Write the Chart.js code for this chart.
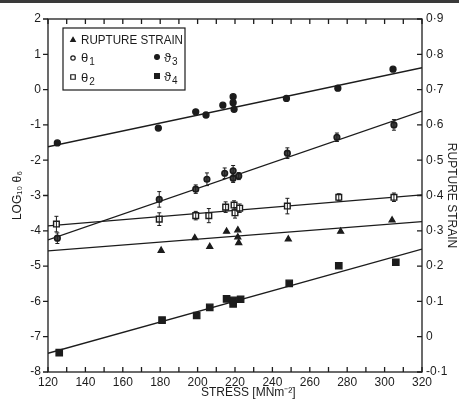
<!DOCTYPE html>
<html>
<head>
<meta charset="utf-8">
<script src="https://cdn.jsdelivr.net/npm/chart.js@4"></script>
<style>
    html, body { margin: 0; padding: 0; background: #fff; }
    #wrap { width: 459px; height: 400px; position: relative; }
</style>
</head>
<body>
<div id="wrap"><canvas id="chart"></canvas></div>
<script>
// --- Data ---
const theta3Stress = [125, 179, 199, 204.5, 213.5, 219, 219, 219.5, 247.5, 275, 304.5];
const theta3Log    = [-1.51, -1.09, -0.63, -0.72, -0.44, -0.20, -0.37, -0.56, -0.25, 0.04, 0.58];

const theta1Stress = [125, 179.5, 199, 205, 214.5, 219, 219, 222, 248, 274.5, 305];
const theta1Log    = [-4.21, -3.11, -2.82, -2.54, -2.37, -2.30, -2.51, -2.45, -1.80, -1.35, -1.00];
const theta1Err    = [0.15, 0.22, 0.12, 0.18, 0.15, 0.15, 0.12, 0.10, 0.15, 0.12, 0.15];

const theta2Stress = [124.5, 179.5, 199, 206, 215, 219.5, 220, 222.5, 248, 275.5, 305];
const theta2Log    = [-3.81, -3.67, -3.57, -3.57, -3.33, -3.27, -3.49, -3.36, -3.30, -3.05, -3.05];
const theta2Err    = [0.22, 0.18, 0.12, 0.20, 0.15, 0.12, 0.15, 0.12, 0.22, 0.10, 0.12];

const ruptureStress = [180.5, 198.5, 206.5, 215.5, 221.5, 221.5, 222, 248.5, 276.5, 304];
const ruptureStrain = [0.244, 0.280, 0.255, 0.298, 0.302, 0.282, 0.266, 0.276, 0.298, 0.330];

const theta4Stress = [126, 181, 199.5, 206.5, 215.5, 219, 219, 223, 249, 275.5, 306];
const theta4Log    = [-7.45, -6.53, -6.40, -6.17, -5.93, -5.97, -6.07, -5.94, -5.49, -4.99, -4.89];

// fitted lines, ends at 120 and 320
const fitStress  = [120, 320];
const theta3Fit  = [-1.62, 0.62];
const theta1Fit  = [-4.26, -0.61];
const theta2Fit  = [-3.86, -2.98];
const ruptureFit = [0.243, 0.326];
const theta4Fit  = [-7.47, -4.52];

const xTicks = [120, 140, 160, 180, 200, 220, 240, 260, 280, 300, 320];

// --- Styles ---
const ink = '#1c1c1c';
const fontName = "'Liberation Sans', Arial, sans-serif";

function pts(xs, ys) {
    return xs.map((x, i) => ({ x: x, y: ys[i] }));
}

function fitLine(ys, axis) {
    return {
        data: pts(fitStress, ys), yAxisID: axis, showLine: true,
        borderColor: ink, borderWidth: 1.3, pointRadius: 0, order: 2
    };
}

function markers(xs, ys, axis, style, radius, fill, extra) {
    return Object.assign({
        data: pts(xs, ys), yAxisID: axis, showLine: false,
        pointStyle: style, pointRadius: radius, pointHoverRadius: radius,
        pointBackgroundColor: fill, pointBorderColor: ink, pointBorderWidth: 1.3, order: 1
    }, extra || {});
}

/** Frame, inward ticks, error bars and boxed legend **/
const decorations = {
    id: 'decorations',
    afterDatasetsDraw(chart) {
        const ctx = chart.ctx;
        ctx.save();
        ctx.strokeStyle = ink;
        ctx.lineWidth = 1;
        chart.data.datasets.forEach((ds, di) => {
            if (!ds.errors) return;
            const meta = chart.getDatasetMeta(di);
            const yScale = chart.scales[ds.yAxisID];
            ds.data.forEach((p, i) => {
                const px = meta.data[i].x;
                const top = yScale.getPixelForValue(p.y + ds.errors[i]);
                const bot = yScale.getPixelForValue(p.y - ds.errors[i]);
                ctx.beginPath();
                ctx.moveTo(px, top); ctx.lineTo(px, bot);
                ctx.moveTo(px - 2, top); ctx.lineTo(px + 2, top);
                ctx.moveTo(px - 2, bot); ctx.lineTo(px + 2, bot);
                ctx.stroke();
            });
        });
        ctx.restore();
    },
    afterDraw(chart) {
        const { ctx, chartArea: a, scales } = chart;
        ctx.save();

        // scan edge at the very top
        ctx.fillStyle = '#3a3a3a';
        ctx.fillRect(0, 0, chart.width, 3);

        ctx.strokeStyle = ink;
        ctx.lineWidth = 1.3;
        ctx.strokeRect(a.left, a.top, a.right - a.left, a.bottom - a.top);

        ctx.beginPath();
        for (let v = 120; v <= 320; v += 10) {
            const px = scales.x.getPixelForValue(v);
            ctx.moveTo(px, a.bottom); ctx.lineTo(px, a.bottom - 5);
            ctx.moveTo(px, a.top); ctx.lineTo(px, a.top + 5);
        }
        for (let v = -8; v <= 2; v++) {
            const py = scales.y.getPixelForValue(v);
            ctx.moveTo(a.left, py); ctx.lineTo(a.left - 5, py);
        }
        for (let i = 0; i <= 10; i++) {
            const py = scales.y1.getPixelForValue(-0.1 + i * 0.1);
            ctx.moveTo(a.right, py); ctx.lineTo(a.right - 5, py);
        }
        ctx.stroke();

        // legend box
        const bx = a.left + 15, by = a.top + 9;
        ctx.lineWidth = 1.2;
        ctx.strokeRect(bx, by, 122, 62);

        const H = Chart.helpers;
        function mark(style, r, fill, x, y) {
            ctx.fillStyle = fill;
            ctx.strokeStyle = ink;
            ctx.lineWidth = 1.2;
            H.drawPoint(ctx, { pointStyle: style, radius: r, borderWidth: 1.2, rotation: 0 }, x, y);
        }
        function label(main, sub, x, y, fitWidth) {
            ctx.fillStyle = ink;
            ctx.textBaseline = 'middle';
            ctx.textAlign = 'left';
            ctx.font = '13px ' + fontName;
            const w = ctx.measureText(main).width;
            if (fitWidth && w > fitWidth) {
                // squeeze horizontally like the narrow lettering of the original
                ctx.save();
                ctx.translate(x, y);
                ctx.scale(fitWidth / w, 1);
                ctx.fillText(main, 0, 0);
                ctx.restore();
            } else {
                ctx.fillText(main, x, y);
            }
            if (sub) {
                ctx.font = '10px ' + fontName;
                ctx.fillText(sub, x + w + 1, y + 4);
            }
        }

        mark('triangle', 2.6, ink, bx + 10, by + 12);
        label('RUPTURE STRAIN', null, bx + 18, by + 12, 102);
        mark('circle', 2.2, '#fff', bx + 10, by + 30);
        label('θ', '1', bx + 18, by + 30);
        mark('circle', 2.4, ink, bx + 94, by + 29);
        label('ϑ', '3', bx + 101, by + 30);
        mark('rect', 3.2, '#fff', bx + 10, by + 49);
        label('θ', '2', bx + 18, by + 50);
        mark('rect', 3.4, ink, bx + 94, by + 48);
        label('ϑ', '4', bx + 101, by + 49);

        ctx.restore();
    }
};

// --- Chart ---
const datasets = [
    fitLine(theta3Fit, 'y'),
    fitLine(theta1Fit, 'y'),
    fitLine(theta2Fit, 'y'),
    fitLine(ruptureFit, 'y1'),
    fitLine(theta4Fit, 'y'),
    markers(theta3Stress, theta3Log, 'y', 'circle', 3, ink),
    markers(theta1Stress, theta1Log, 'y', 'circle', 2.8, '#444', { errors: theta1Err, pointBorderWidth: 1.6 }),
    markers(theta2Stress, theta2Log, 'y', 'rect', 4, '#fff', { errors: theta2Err, pointBorderWidth: 1.4 }),
    markers(ruptureStress, ruptureStrain, 'y1', 'triangle', 3.4, ink),
    markers(theta4Stress, theta4Log, 'y', 'rect', 4.5, ink)
];

const tickFont = { family: fontName, size: 12 };
const noGrid = { display: false, drawTicks: false };

new Chart(document.getElementById('chart'), {
    type: 'scatter',
    data: { datasets: datasets },
    plugins: [decorations],
    options: {
        responsive: true,
        maintainAspectRatio: false,
        animation: false,
        layout: { padding: { top: 19, left: 0, right: 0, bottom: 0 } },
        plugins: { legend: { display: false }, tooltip: { enabled: false } },
        scales: {
            x: {
                type: 'linear', min: 120, max: 320,
                afterBuildTicks: (s) => { s.ticks = xTicks.map(v => ({ value: v })); },
                afterFit: (s) => { s.height = 28; },
                grid: noGrid,
                border: { display: false },
                ticks: { color: ink, font: tickFont, padding: 3, maxRotation: 0 },
                title: { display: true, text: '        STRESS [MNm⁻²]', color: ink, font: tickFont, padding: { top: 0, bottom: 0 } }
            },
            y: {
                type: 'linear', position: 'left', min: -8, max: 2,
                afterFit: (s) => { s.width = 48; },
                grid: noGrid,
                border: { display: false },
                ticks: { color: ink, font: tickFont, stepSize: 1, padding: 7 },
                title: { display: true, text: 'LOG₁₀ θ₆', color: ink, font: tickFont, padding: { top: 10, bottom: 0 } }
            },
            y1: {
                type: 'linear', position: 'right', min: -0.1, max: 0.9,
                afterFit: (s) => { s.width = 37; },
                grid: noGrid,
                border: { display: false },
                ticks: {
                    color: ink, font: tickFont, stepSize: 0.1, padding: 4,
                    callback: (v) => Math.abs(v) < 1e-9 ? '0' : v.toFixed(1).replace('.', '·')
                },
                title: { display: true, text: 'RUPTURE STRAIN', color: ink, font: tickFont, padding: { top: 0, bottom: 0 } }
            }
        }
    }
});
</script>
</body>
</html>
